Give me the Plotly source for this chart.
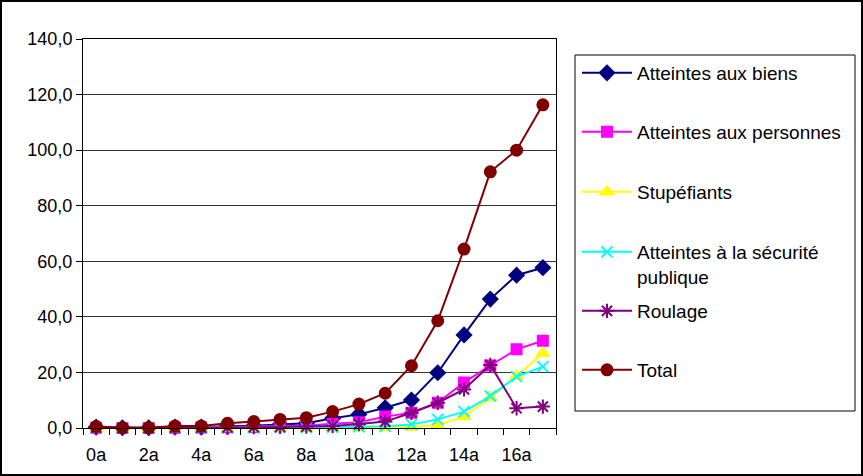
import plotly.graph_objects as go

categories = ["0a", "1a", "2a", "3a", "4a", "5a", "6a", "7a", "8a", "9a",
              "10a", "11a", "12a", "13a", "14a", "15a", "16a", "17a"]
tick_labels = ["0a", "2a", "4a", "6a", "8a", "10a", "12a", "14a", "16a"]

biens = [0.3, 0.1, 0.1, 0.3, 0.3, 0.6, 0.8, 1.3, 1.7, 3.5, 4.9, 7.3, 10.1, 19.9, 33.5, 46.4, 55.0, 57.7]
personnes = [0.1, 0.0, 0.0, 0.1, 0.2, 0.3, 0.4, 0.6, 0.8, 1.5, 2.1, 4.1, 5.5, 9.1, 16.4, 22.5, 28.3, 31.4]
stupefiants = [0.0, 0.0, 0.0, 0.0, 0.0, 0.0, 0.0, 0.0, 0.0, 0.0, 0.1, 0.1, 0.3, 1.1, 4.1, 11.0, 18.7, 26.9]
securite = [0.0, 0.0, 0.0, 0.0, 0.0, 0.1, 0.1, 0.2, 0.2, 0.3, 0.4, 0.6, 1.3, 3.1, 5.9, 11.5, 18.5, 22.1]
roulage = [0.1, 0.0, 0.0, 0.1, 0.1, 0.2, 0.3, 0.4, 0.5, 0.7, 1.4, 2.3, 5.5, 9.1, 13.9, 22.7, 7.1, 7.7]
total = [0.5, 0.1, 0.1, 0.7, 0.7, 1.7, 2.3, 3.1, 3.7, 5.9, 8.6, 12.5, 22.4, 38.6, 64.4, 92.2, 100.0, 116.3]

series = [
    ("Atteintes aux biens", biens, "#000080", "diamond", 11),
    ("Atteintes aux personnes", personnes, "#FF00FF", "square", 10),
    ("Stupéfiants", stupefiants, "#FFFF00", "triangle-up", 11),
    ("Atteintes à la sécurité<br>publique", securite, "#00FFFF", "x-thin-open", 11),
    ("Roulage", roulage, "#800080", "asterisk-open", 12),
    ("Total", total, "#800000", "circle", 11),
]

W, H = 863, 476
L, R, T, B = 83, 556, 39, 428

def px_x(p):
    return (p - L) / (R - L)

def px_y(p):
    return (B - p) / (B - T)

xs = list(range(len(categories)))
fig = go.Figure()
legend_centers = [73, 132, 192, 252, 311, 370]
layout_legends = {}
for i, (name, vals, color, sym, size) in enumerate(series):
    lname = "legend" if i == 0 else f"legend{i+1}"
    fig.add_trace(go.Scatter(
        x=xs, y=vals, name=name, mode="lines+markers",
        line=dict(color=color, width=2),
        marker=dict(symbol=sym, size=size, color=color,
                    line=dict(color=color, width=2)),
        cliponaxis=False, legend=lname,
    ))
    multi = "<br>" in name
    layout_legends[lname] = dict(
        x=px_x(577), xanchor="left",
        y=px_y(legend_centers[i] - (19 if multi else 0)),
        yanchor="top" if multi else "middle",
        valign="top",
        bgcolor="rgba(0,0,0,0)", borderwidth=0,
        font=dict(family="Liberation Sans, Arial, sans-serif", size=19, color="black"),
        itemwidth=50,
    )

tick_vals = [categories.index(t) for t in tick_labels]

fig.update_layout(
    width=W, height=H,
    margin=dict(l=L, r=W - R, t=T, b=H - B, pad=0, autoexpand=False),
    paper_bgcolor="white", plot_bgcolor="white",
    separators=", ",
    font=dict(family="Liberation Sans, Arial, sans-serif", size=18, color="black"),
    showlegend=True,
    xaxis=dict(
        range=[-0.5, len(categories) - 0.5],
        tickmode="array", tickvals=tick_vals, ticktext=tick_labels,
        ticks="", showgrid=False, zeroline=False,
        showline=True, linecolor="black", linewidth=1, mirror=True,
        minor=dict(ticks="outside", tickmode="linear", tick0=0.5, dtick=1,
                   ticklen=6, tickcolor="black", tickwidth=1, showgrid=False),
        tickfont=dict(size=18),
        ticklabelstandoff=10,
        automargin=False,
    ),
    yaxis=dict(
        range=[0, 140], dtick=20, tick0=0, tickformat=".1f",
        ticks="outside", ticklen=6, tickcolor="black",
        showgrid=True, gridcolor="#333333", gridwidth=1,
        zeroline=False, showline=True, linecolor="black", linewidth=1, mirror=True,
        tickfont=dict(size=18),
        automargin=False,
    ),
    shapes=[
        dict(type="rect", xref="paper", yref="paper",
             x0=px_x(1), x1=px_x(W - 1), y0=px_y(H - 1), y1=px_y(1),
             line=dict(color="black", width=2), fillcolor="rgba(0,0,0,0)", layer="below"),
        dict(type="rect", xref="paper", yref="paper",
             x0=px_x(575), x1=px_x(855), y0=px_y(411), y1=px_y(55),
             line=dict(color="black", width=1), fillcolor="rgba(0,0,0,0)"),
    ],
    **layout_legends,
)

fig.write_html(
    "out.html",
    config={"displayModeBar": False},
    post_script="document.body.style.margin='0';document.body.style.overflow='hidden';",
)
